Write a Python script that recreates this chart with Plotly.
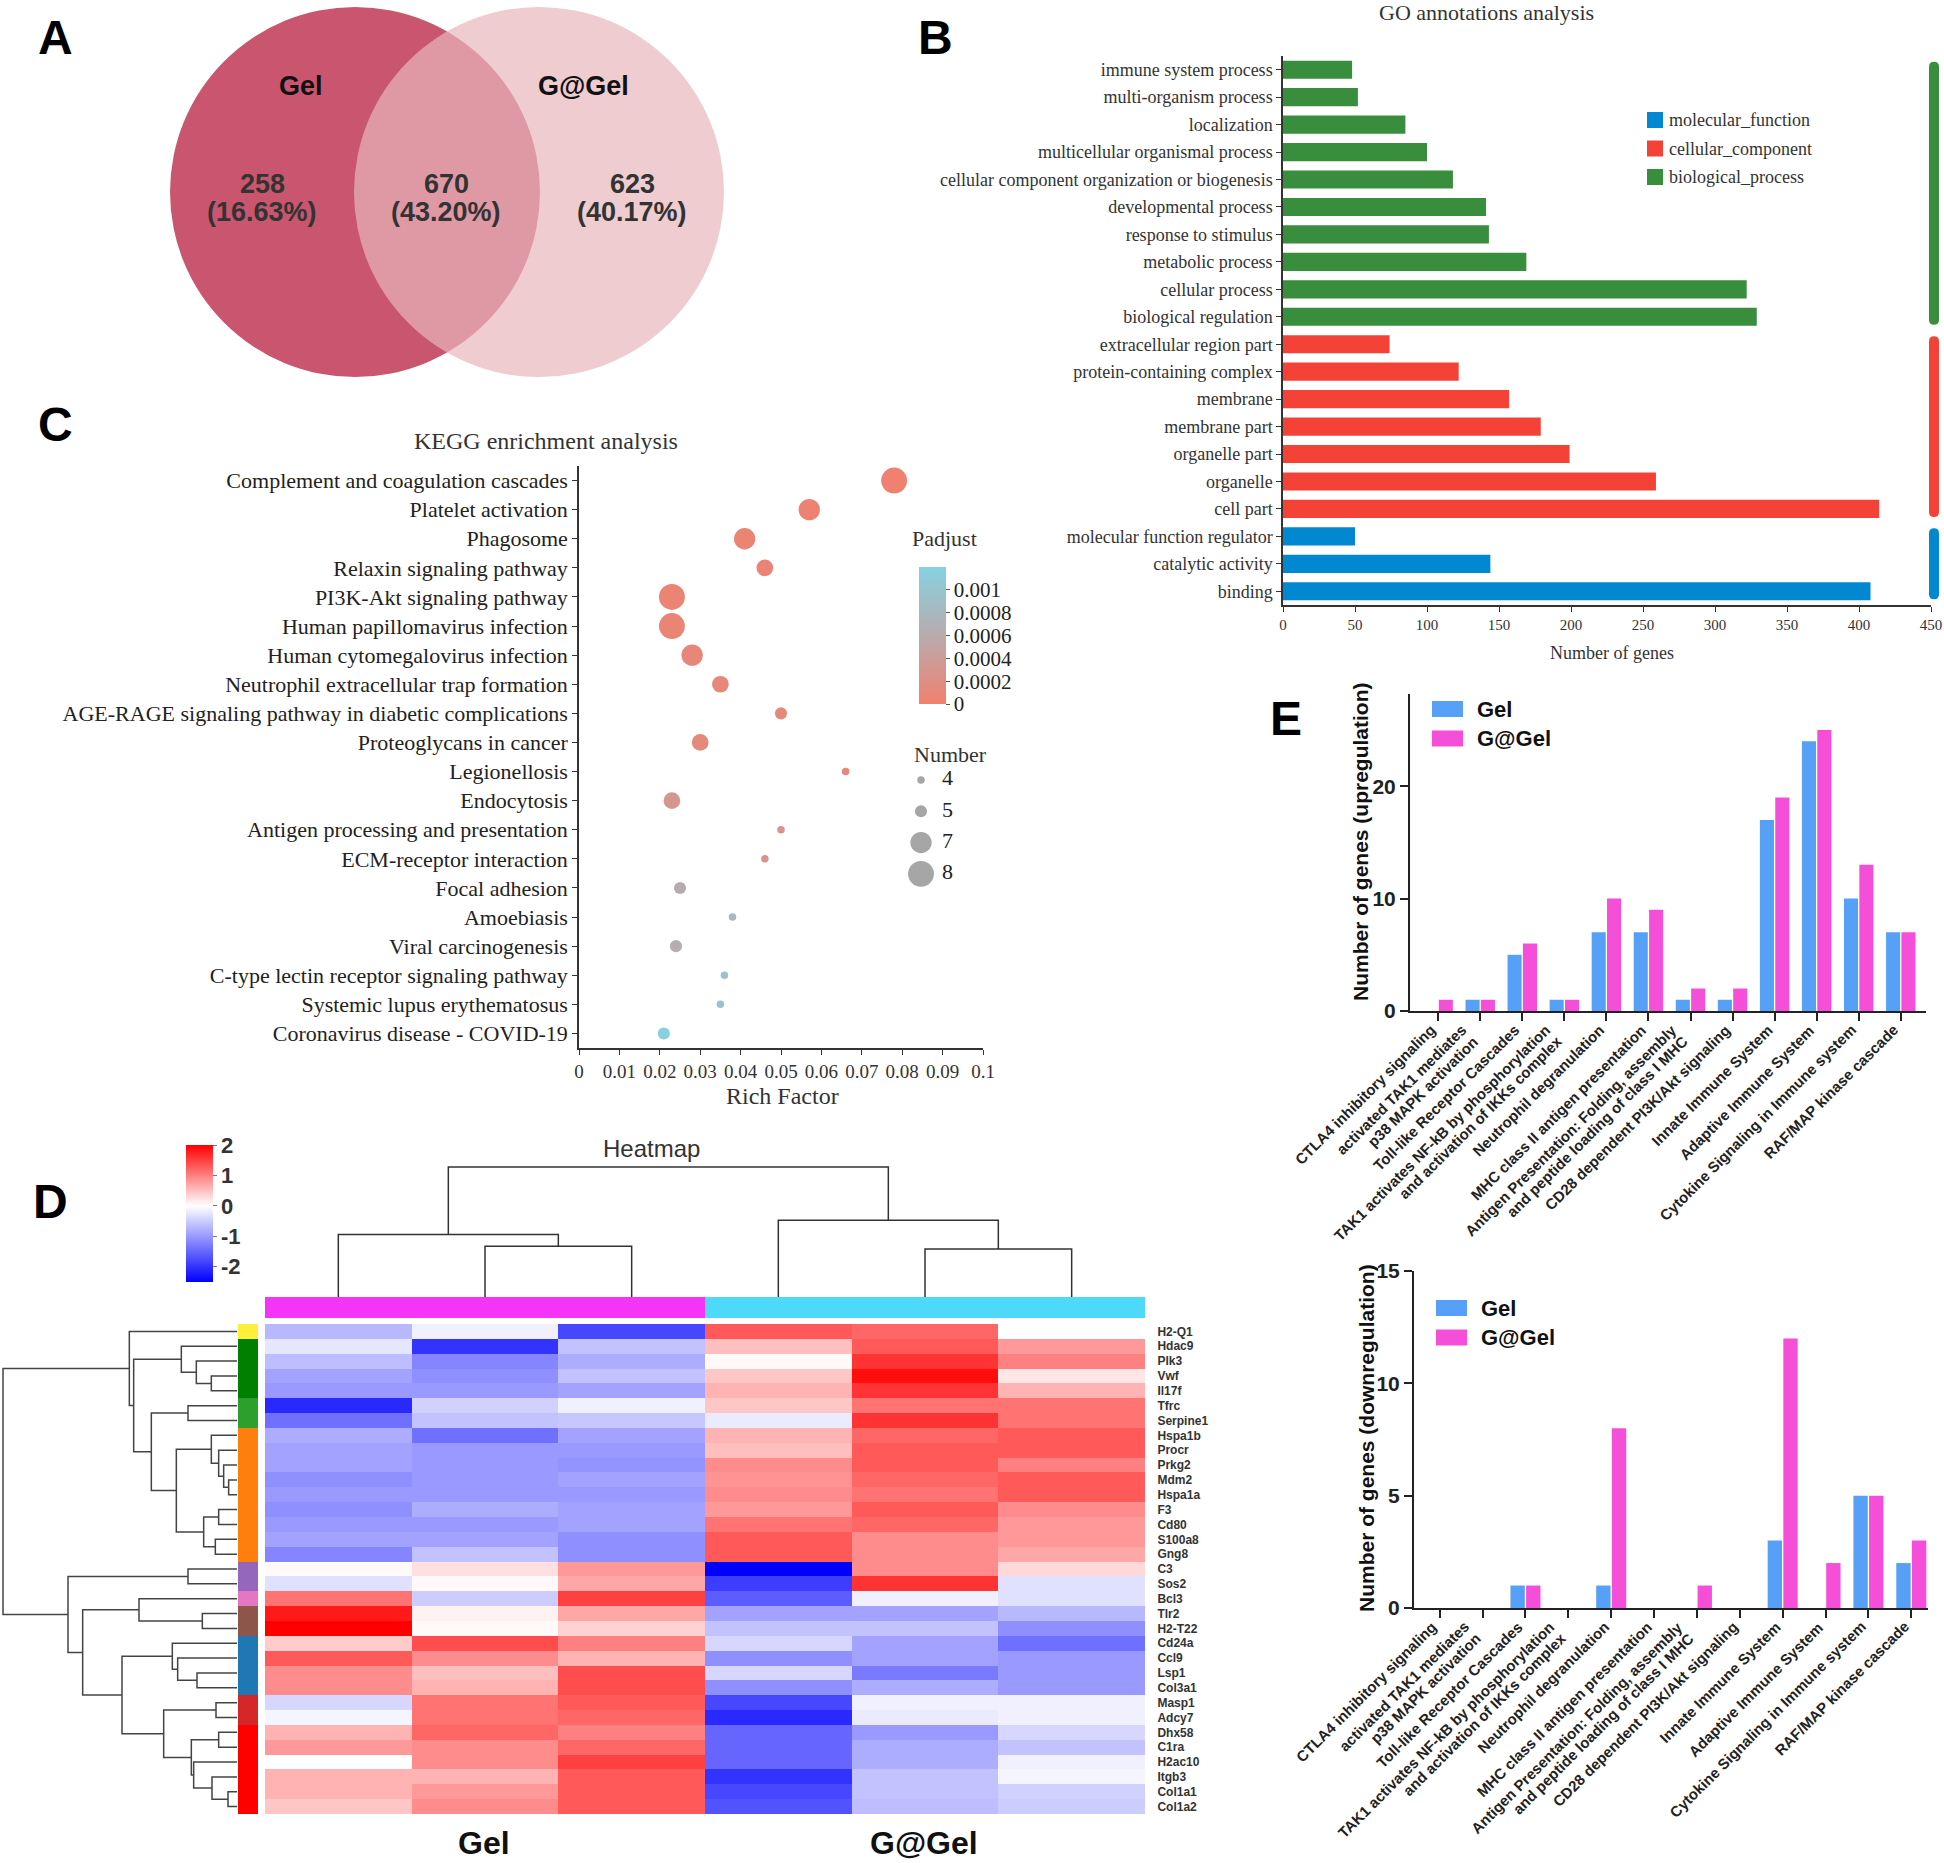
import plotly.graph_objects as go

W, H = 1944, 1863

# ---------------------------------------------------------------- data
venn_labels = ["Gel", "G@Gel"]
venn_counts = [258, 670, 623]          # Gel only, shared, G@Gel only

go_terms = ["immune system process", "multi-organism process", "localization",
            "multicellular organismal process", "cellular component organization or biogenesis",
            "developmental process", "response to stimulus", "metabolic process",
            "cellular process", "biological regulation",
            "extracellular region part", "protein-containing complex", "membrane",
            "membrane part", "organelle part", "organelle", "cell part",
            "molecular function regulator", "catalytic activity", "binding"]
go_counts = [48, 52, 85, 100, 118, 141, 143, 169, 322, 329,
             74, 122, 157, 179, 199, 259, 414,
             50, 144, 408]
go_groups = (["biological_process"] * 10 + ["cellular_component"] * 7 +
             ["molecular_function"] * 3)
go_legend_order = ["molecular_function", "cellular_component", "biological_process"]

kegg_terms = ["Complement and coagulation cascades", "Platelet activation", "Phagosome",
              "Relaxin signaling pathway", "PI3K-Akt signaling pathway",
              "Human papillomavirus infection", "Human cytomegalovirus infection",
              "Neutrophil extracellular trap formation",
              "AGE-RAGE signaling pathway in diabetic complications", "Proteoglycans in cancer",
              "Legionellosis", "Endocytosis", "Antigen processing and presentation",
              "ECM-receptor interaction", "Focal adhesion", "Amoebiasis", "Viral carcinogenesis",
              "C-type lectin receptor signaling pathway", "Systemic lupus erythematosus",
              "Coronavirus disease - COVID-19"]
kegg_rich = [0.078, 0.057, 0.041, 0.046, 0.023, 0.023, 0.028, 0.035, 0.050, 0.030,
             0.066, 0.023, 0.050, 0.046, 0.025, 0.038, 0.024, 0.036, 0.035, 0.021]
kegg_number = [8, 7, 7, 6, 8, 8, 7, 6, 5, 6, 4, 6, 4, 4, 5, 4, 5, 4, 4, 5]
kegg_padj = [0.00001, 0.00003, 0.00005, 0.00006, 0.00006, 0.00007, 0.0001, 0.00011,
             0.00012, 0.00013, 0.00008, 0.0003, 0.00026, 0.00028, 0.0006, 0.0008,
             0.00065, 0.00095, 0.00095, 0.00118]
number_legend = [4, 5, 7, 8]
padj_ticks = [0, 0.0002, 0.0004, 0.0006, 0.0008, 0.001]

heat_genes = ["H2-Q1", "Hdac9", "Plk3", "Vwf", "Il17f", "Tfrc", "Serpine1", "Hspa1b", "Procr",
              "Prkg2", "Mdm2", "Hspa1a", "F3", "Cd80", "S100a8", "Gng8", "C3", "Sos2", "Bcl3",
              "Tlr2", "H2-T22", "Cd24a", "Ccl9", "Lsp1", "Col3a1", "Masp1", "Adcy7", "Dhx58",
              "C1ra", "H2ac10", "Itgb3", "Col1a1", "Col1a2"]
heat_samples = ["Gel-1", "Gel-2", "Gel-3", "G@Gel-1", "G@Gel-2", "G@Gel-3"]
sample_group = ["Gel", "Gel", "Gel", "G@Gel", "G@Gel", "G@Gel"]
gene_cluster = [0, 1, 1, 1, 1, 2, 2, 3, 3, 3, 3, 3, 3, 3, 3, 3, 4, 4, 5, 6, 6, 7, 7, 7, 7,
                8, 8, 9, 9, 9, 9, 9, 9]
heat_z = [
    [-0.7, -0.15, -1.8, 1.3, 1.2, 0.0],
    [-0.25, -2.0, -0.6, 0.5, 1.3, 0.8],
    [-0.65, -1.2, -0.8, 0.05, 1.6, 1.0],
    [-0.9, -1.1, -0.6, 0.45, 1.9, 0.2],
    [-1.0, -1.0, -0.9, 0.6, 1.6, 0.6],
    [-2.1, -0.45, -0.15, 0.45, 1.1, 1.1],
    [-1.4, -0.6, -0.55, -0.2, 1.6, 1.1],
    [-0.8, -1.4, -0.9, 0.6, 1.2, 1.3],
    [-0.9, -1.0, -1.0, 0.5, 1.3, 1.3],
    [-0.9, -1.0, -1.05, 0.9, 1.3, 1.0],
    [-1.1, -1.0, -0.9, 0.85, 1.2, 1.3],
    [-1.0, -1.0, -1.0, 0.9, 1.1, 1.3],
    [-1.1, -0.8, -0.9, 0.8, 1.3, 0.9],
    [-1.0, -1.0, -0.9, 1.1, 1.2, 0.8],
    [-0.9, -0.9, -1.1, 1.3, 0.9, 0.8],
    [-1.2, -0.6, -1.1, 1.3, 0.9, 0.7],
    [0.05, 0.25, 0.8, -2.5, 0.9, 0.3],
    [-0.3, 0.05, 0.7, -1.9, 1.6, -0.3],
    [1.1, -0.5, 1.5, -1.6, -0.15, -0.3],
    [1.8, 0.1, 0.7, -0.9, -0.9, -0.7],
    [2.0, 0.05, 0.35, -0.6, -0.6, -1.1],
    [0.4, 1.4, 1.0, -0.4, -0.9, -1.4],
    [1.3, 0.9, 0.6, -1.1, -0.9, -1.0],
    [0.9, 0.5, 1.4, -0.4, -1.3, -1.0],
    [0.9, 0.6, 1.4, -1.1, -0.8, -1.0],
    [-0.4, 1.1, 1.3, -1.8, -0.15, -0.15],
    [-0.1, 1.1, 1.2, -2.1, -0.2, -0.15],
    [0.6, 1.2, 1.0, -1.5, -1.0, -0.4],
    [0.8, 0.9, 1.2, -1.5, -0.8, -0.6],
    [0.0, 0.9, 1.5, -1.5, -0.8, -0.15],
    [0.6, 0.6, 1.3, -2.0, -0.6, -0.1],
    [0.6, 0.8, 1.3, -1.8, -0.6, -0.45],
    [0.45, 0.9, 1.3, -1.7, -0.65, -0.5],
]
# dendrograms: (height, left, right); leaves are row / column indices
row_tree = (70.2,
            (32.3, 0,
             (31.0,
              (16.7, 1, (12.2, 2, (7.7, 3, 4))),
              (25.7, (14.7, 5, 6),
               (18.2, (7.7, 7, (5.5, 8, (4.0, 9, (2.5, 10, 11)))),
                (10.0, (5.5, 12, 13), (6.5, 14, 15)))))),
            (50.7, (14.7, 16, 17),
             (46.3, (29.4, 18, (10.4, 19, 20)),
              (34.5, (19.4, 21, (17.8, 22, (12.0, 23, 24))),
               (22.0, (6.3, 25, 26),
                (13.7, (5.5, 27, 28),
                 (13.0, 29, (7.5, 30, (2.7, 31, 32)))))))))
col_tree = (1.0, (0.48, 0, (0.39, 1, 2)), (0.59, 3, (0.37, 4, 5)))

reactome_terms = ["CTLA4 inhibitory signaling",
                  "activated TAK1 mediates<br>p38 MAPK activation",
                  "Toll-like Receptor Cascades",
                  "TAK1 activates NF-kB by phosphorylation<br>and activation of IKKs complex",
                  "Neutrophil degranulation",
                  "MHC class II antigen presentation",
                  "Antigen Presentation: Folding, assembly<br>and peptide loading of class I MHC",
                  "CD28 dependent PI3K/Akt signaling",
                  "Innate Immune System",
                  "Adaptive Immune System",
                  "Cytokine Signaling in Immune system",
                  "RAF/MAP kinase cascade"]
up_gel = [0, 1, 5, 1, 7, 7, 1, 1, 17, 24, 10, 7]
up_ggel = [1, 1, 6, 1, 10, 9, 2, 2, 19, 25, 13, 7]
down_gel = [0, 0, 1, 0, 1, 0, 0, 0, 3, 0, 5, 2]
down_ggel = [0, 0, 1, 0, 8, 0, 1, 0, 12, 2, 5, 3]

# ---------------------------------------------------------------- styles
SERIF = "Liberation Serif, Times New Roman, serif"
SANS = "Liberation Sans, Arial, sans-serif"
GO_COL = {"biological_process": "#388E3C", "cellular_component": "#F44336",
          "molecular_function": "#0288D1"}
GEL_C, GGEL_C = "#56A1F7", "#F54FD9"
CLUSTER_COLORS = ["#FFEE3A", "#007F00", "#2CA02C", "#FF7F0E", "#9467BD", "#E377C2",
                  "#8C564B", "#1F77B4", "#D62728", "#FF0000"]
GROUP_COLORS = {"Gel": "#F535F5", "G@Gel": "#4DD9F9"}


def fx(p):
    return p / W


def fy(p):
    return 1 - p / H


def dx(a, b):
    return [a / W, b / W]


def dy(top, bot):
    return [1 - bot / H, 1 - top / H]


def ann(text, x, y, size, family=SANS, color="#222", bold=False, xanchor="center",
        yanchor="middle", angle=0):
    return dict(text=text, x=fx(x), y=fy(y), xref="paper", yref="paper", showarrow=False,
                font=dict(family=family, size=size, color=color,
                          weight="bold" if bold else "normal"),
                xanchor=xanchor, yanchor=yanchor, textangle=angle)


def rect(x0, y0, x1, y1, color, **kw):
    d = dict(type="rect", xref="paper", yref="paper", x0=fx(x0), x1=fx(x1), y0=fy(y1),
             y1=fy(y0), fillcolor=color, line=dict(width=0), layer="above")
    d.update(kw)
    return d


def rounded_vbar(xc, y0, y1, w, color):
    r = w / 2.0
    P = lambda x, y: f"{fx(x):.6f},{fy(y):.6f}"
    path = (f"M {P(xc - r, y0 + r)} Q {P(xc - r, y0)} {P(xc, y0)} Q {P(xc + r, y0)} {P(xc + r, y0 + r)} "
            f"L {P(xc + r, y1 - r)} Q {P(xc + r, y1)} {P(xc, y1)} Q {P(xc - r, y1)} {P(xc - r, y1 - r)} Z")
    return dict(type="path", path=path, xref="paper", yref="paper", fillcolor=color,
                line=dict(width=0), layer="above")


def dendro_segments(tree):
    pos, hgt = [], []

    def rec(n):
        if isinstance(n, int):
            return float(n), 0.0
        h, a, b = n
        pa, ha = rec(a)
        pb, hb = rec(b)
        pos.extend([pa, pa, pb, pb, None])
        hgt.extend([ha, h, h, hb, None])
        return (pa + pb) / 2.0, h

    rec(tree)
    return pos, hgt


fig = go.Figure()
shapes, annotations = [], []

# ---------------------------------------------------------------- A: Venn
total = sum(venn_counts)
shapes.append(dict(type="circle", xref="paper", yref="paper", x0=fx(170), x1=fx(540),
                   y0=fy(377), y1=fy(7), fillcolor="#C9566E", line=dict(width=0), layer="below"))
shapes.append(dict(type="circle", xref="paper", yref="paper", x0=fx(354), x1=fx(724),
                   y0=fy(377), y1=fy(7), fillcolor="rgba(231,183,188,0.7)", line=dict(width=0),
                   layer="below"))
annotations.append(ann(venn_labels[0], 301, 86, 27, color="#111", bold=True))
annotations.append(ann(venn_labels[1], 583, 86, 27, color="#111", bold=True))
for cx, c in zip([262, 446, 632], venn_counts):
    annotations.append(ann(str(c), cx, 184, 27, color="#333", bold=True))
    annotations.append(ann(f"({c / total * 100:.2f}%)", cx, 212, 27, color="#333", bold=True))

# ---------------------------------------------------------------- B: GO bars
for grp in ["biological_process", "cellular_component", "molecular_function"]:
    idx = [i for i, g in enumerate(go_groups) if g == grp]
    fig.add_trace(go.Bar(x=[go_counts[i] for i in idx], y=[go_terms[i] for i in idx],
                         orientation="h", name=grp, marker=dict(color=GO_COL[grp], line=dict(width=0)),
                         width=0.66, offset=-0.33, xaxis="x", yaxis="y", hoverinfo="skip"))
B_TOP, B_BOT = 56, 605
step = (B_BOT - B_TOP) / len(go_terms)
for grp in go_legend_order[::-1]:
    idx = [i for i, g in enumerate(go_groups) if g == grp]
    y0 = B_TOP + step * (min(idx) + 0.5) - 8
    y1 = B_TOP + step * (max(idx) + 0.5) + 8
    shapes.append(rounded_vbar(1934, y0, y1, 10, GO_COL[grp]))
for k, grp in enumerate(go_legend_order):
    yc = 120 + 28.5 * k
    shapes.append(rect(1647, yc - 8, 1663, yc + 8, GO_COL[grp]))
    annotations.append(ann(grp, 1667, yc, 18, family=SERIF, color="#333", xanchor="left"))
annotations.append(ann("GO annotations analysis", 1486, 12, 22, family=SERIF, color="#333"))
annotations.append(ann("Number of genes", 1612, 653, 18, family=SERIF, color="#333"))

# ---------------------------------------------------------------- C: KEGG bubbles
size_px = lambda n: 4.6 * n - 10.9
fig.add_trace(go.Scatter(
    x=kegg_rich, y=kegg_terms, mode="markers", xaxis="x2", yaxis="y2", hoverinfo="skip",
    marker=dict(size=[size_px(n) for n in kegg_number], color=kegg_padj, cmin=0, cmax=0.0012,
                colorscale=[[0, "#F1806F"], [0.5, "#B8ABAE"], [1, "#86D1E0"]],
                line=dict(width=0), opacity=1,
                colorbar=dict(x=fx(919), xanchor="left", y=fy(567), yanchor="top",
                              lenmode="pixels", len=137, thicknessmode="pixels", thickness=27,
                              xpad=0, ypad=0, outlinewidth=0, tickvals=padj_ticks,
                              ticktext=[f"{v:g}" for v in padj_ticks], ticks="outside",
                              ticklen=4, tickcolor="#555",
                              tickfont=dict(family=SERIF, size=21, color="#222")))))
fig.add_trace(go.Scatter(
    x=[21] * len(number_legend), y=list(range(len(number_legend))), mode="markers",
    xaxis="x3", yaxis="y3", hoverinfo="skip",
    marker=dict(size=[size_px(n) for n in number_legend], color="#808080", line=dict(width=0))))
fig.add_trace(go.Scatter(
    x=[42] * len(number_legend), y=list(range(len(number_legend))), mode="text",
    text=[str(n) for n in number_legend], textposition="middle right", xaxis="x3", yaxis="y3",
    hoverinfo="skip", textfont=dict(family=SERIF, size=22, color="#222")))
annotations.append(ann("KEGG enrichment analysis", 546, 441, 24, family=SERIF, color="#333"))
annotations.append(ann("Rich Factor", 782, 1096, 24, family=SERIF, color="#333"))
annotations.append(ann("Padjust", 944, 539, 22, family=SERIF, color="#333"))
annotations.append(ann("Number", 950, 754, 22, family=SERIF, color="#333"))

# ---------------------------------------------------------------- D: heatmap
fig.add_trace(go.Heatmap(
    z=heat_z, x=list(range(len(heat_samples))), y=list(range(len(heat_genes))),
    xaxis="x4", yaxis="y4", zmin=-2.5, zmax=2.0, hoverinfo="skip",
    colorscale=[[0, "#0000FF"], [2.5 / 4.5, "#FFFFFF"], [1, "#FF0000"]],
    colorbar=dict(x=fx(186), xanchor="left", y=fy(1145), yanchor="top", lenmode="pixels",
                  len=137, thicknessmode="pixels", thickness=27, xpad=0, ypad=0,
                  outlinewidth=0, tickvals=[-2, -1, 0, 1, 2],
                  ticktext=["-2", "-1", "0", "1", "2"], ticks="outside", ticklen=4,
                  tickcolor="#777",
                  tickfont=dict(family=SANS, size=22, color="#333", weight="bold"))))
cp, ch = dendro_segments(col_tree)
fig.add_trace(go.Scatter(x=cp, y=ch, mode="lines", xaxis="x4", yaxis="y5", hoverinfo="skip",
                         line=dict(color="#333", width=1.5)))
rp, rh = dendro_segments(row_tree)
fig.add_trace(go.Scatter(x=rh, y=rp, mode="lines", xaxis="x6", yaxis="y6", hoverinfo="skip",
                         line=dict(color="#444", width=1.5)))
ncl = len(CLUSTER_COLORS) - 1
fig.add_trace(go.Heatmap(
    z=[[c] for c in gene_cluster], x=[0], y=list(range(len(heat_genes))), xaxis="x7",
    yaxis="y4", zmin=0, zmax=ncl, showscale=False, hoverinfo="skip",
    colorscale=[[i / ncl, c] for i, c in enumerate(CLUSTER_COLORS)]))
grp_names = list(GROUP_COLORS)
fig.add_trace(go.Heatmap(
    z=[[grp_names.index(g) for g in sample_group]], x=list(range(len(heat_samples))), y=[0],
    xaxis="x4", yaxis="y8", zmin=0, zmax=1, showscale=False, hoverinfo="skip",
    colorscale=[[0, GROUP_COLORS["Gel"]], [1, GROUP_COLORS["G@Gel"]]]))
annotations.append(ann("Heatmap", 651, 1148, 24, color="#333"))
annotations.append(ann("Gel", 484, 1843, 32, color="#111", bold=True))
annotations.append(ann("G@Gel", 924, 1843, 32, color="#111", bold=True))

# ---------------------------------------------------------------- E: bars
for xa, ya, g_vals, gg_vals in [("x9", "y9", up_gel, up_ggel), ("x10", "y10", down_gel, down_ggel)]:
    fig.add_trace(go.Bar(x=reactome_terms, y=g_vals, name="Gel", offset=-0.35, width=0.335,
                         marker=dict(color=GEL_C, line=dict(width=0)), xaxis=xa, yaxis=ya,
                         hoverinfo="skip"))
    fig.add_trace(go.Bar(x=reactome_terms, y=gg_vals, name="G@Gel", offset=0.015, width=0.335,
                         marker=dict(color=GGEL_C, line=dict(width=0)), xaxis=xa, yaxis=ya,
                         hoverinfo="skip"))
# rotated category labels (multi-line labels get a tighter line spacing than plotly's ticks)
LS = 16.0
for xa, ybase in [("x9", 1020), ("x10", 1617)]:
    for i, lab in enumerate(reactome_terms):
        lines = lab.split("<br>")
        n = len(lines)
        t = -(n - 1) / 2 * LS
        for k, line in enumerate(lines):
            p = (k - (n - 1) / 2) * LS
            annotations.append(dict(
                text=line, x=i, y=fy(ybase), xref=xa, yref="paper", xanchor="right",
                yanchor="top", textangle=-45, showarrow=False, borderpad=0,
                xshift=0.7071 * (p + t) + 2, yshift=-0.7071 * (p - t),
                font=dict(family=SANS, size=15, color="#222", weight="bold")))
for (lx, ly) in [(1432, 709), (1436, 1308)]:
    for k, (nm, col) in enumerate([("Gel", GEL_C), ("G@Gel", GGEL_C)]):
        yc = ly + 29.5 * k
        shapes.append(rect(lx, yc - 8, lx + 31, yc + 8, col))
        annotations.append(ann(nm, lx + 43, yc, 22, color="#111", bold=True, xanchor="left"))
annotations.append(ann("Number of genes (upregulation)", 1360, 842, 21, color="#111",
                       bold=True, angle=-90))
annotations.append(ann("Number of genes (downregulation)", 1366, 1438, 21, color="#111",
                       bold=True, angle=-90))

# ---------------------------------------------------------------- panel letters
for t_, x, y in [("A", 55, 38), ("B", 935, 38), ("C", 55, 424), ("D", 50, 1201), ("E", 1286, 719)]:
    annotations.append(ann(t_, x, y, 48, color="#000", bold=True))

# ---------------------------------------------------------------- axes
hidden = dict(visible=False, showgrid=False, zeroline=False, fixedrange=True)
ser_tick = lambda s, c="#333": dict(family=SERIF, size=s, color=c)
e_x = dict(showline=True, linecolor="#222", linewidth=2, ticks="outside", ticklen=8,
           tickwidth=2, tickcolor="#222", showticklabels=False, showgrid=False, zeroline=False,
           categoryorder="array", categoryarray=reactome_terms)
e_y = dict(showline=True, linecolor="#222", linewidth=2, ticks="outside", ticklen=8,
           tickwidth=2, tickcolor="#222", showgrid=False, zeroline=False,
           tickfont=dict(family=SANS, size=21, color="#222", weight="bold"))

fig.update_layout(
    width=W, height=H, margin=dict(l=0, r=0, t=0, b=0, pad=0, autoexpand=False),
    paper_bgcolor="white",
    plot_bgcolor="rgba(0,0,0,0)", barmode="overlay", showlegend=False,
    font=dict(family=SANS, color="#222"),
    xaxis=dict(domain=dx(1283, 1931), anchor="y", range=[0, 450], tickvals=list(range(0, 451, 50)),
               showline=True, linecolor="#333", linewidth=1.5, ticks="outside", ticklen=5,
               tickcolor="#333", showgrid=False, zeroline=False, tickfont=ser_tick(15)),
    yaxis=dict(domain=dy(B_TOP, B_BOT), anchor="x", type="category", categoryorder="array",
               categoryarray=go_terms, range=[len(go_terms) - 0.5, -0.5], showline=True,
               linecolor="#333", linewidth=1.5, ticks="outside", ticklen=5, tickcolor="#333",
               showgrid=False, tickfont=ser_tick(18)),
    xaxis2=dict(domain=dx(579, 983), anchor="y2", range=[0, 0.1],
                tickvals=[i / 100 for i in range(11)],
                ticktext=["0"] + [f"{i / 100:g}" for i in range(1, 11)],
                showline=True, linecolor="#333", linewidth=1.5, ticks="outside", ticklen=5,
                tickcolor="#333", showgrid=False, zeroline=False, tickfont=ser_tick(19)),
    yaxis2=dict(domain=dy(466, 1048), anchor="x2", type="category", categoryorder="array",
                categoryarray=kegg_terms, range=[len(kegg_terms) - 0.5, -0.5], showline=True,
                linecolor="#333", linewidth=1.5, ticks="outside", ticklen=5, tickcolor="#333",
                showgrid=False, tickfont=ser_tick(22, "#222")),
    xaxis3=dict(domain=dx(900, 1000), anchor="y3", range=[0, 100], **hidden),
    yaxis3=dict(domain=dy(764.3, 889.5), anchor="x3", range=[3.5, -0.5], **hidden),
    xaxis4=dict(domain=dx(265, 1145), anchor="y4", range=[-0.5, 5.5], **hidden),
    yaxis4=dict(domain=dy(1324, 1814), anchor="x4", range=[len(heat_genes) - 0.5, -0.5],
                side="right", tickvals=list(range(len(heat_genes))), ticktext=heat_genes,
                ticks="outside", ticklen=9, tickcolor="rgba(0,0,0,0)", showline=False,
                showgrid=False, zeroline=False,
                tickfont=dict(family=SANS, size=12, color="#333", weight="bold")),
    yaxis5=dict(domain=dy(1160, 1297), anchor="x4", range=[0, 137 / 130], **hidden),
    xaxis6=dict(domain=dx(0, 237), anchor="y6", range=[71.1, 0], **hidden),
    yaxis6=dict(domain=dy(1324, 1814), anchor="x6", range=[len(heat_genes) - 0.5, -0.5], **hidden),
    xaxis7=dict(domain=dx(238, 258), anchor="y4", range=[-0.5, 0.5], **hidden),
    yaxis8=dict(domain=dy(1297, 1318), anchor="x4", range=[-0.5, 0.5], **hidden),
    xaxis9=dict(domain=dx(1410, 1926), anchor="y9", range=[-0.67, 11.6], **e_x),
    yaxis9=dict(domain=dy(694, 1011), anchor="x9", range=[0, 28.2], tickvals=[0, 10, 20], **e_y),
    xaxis10=dict(domain=dx(1414, 1928), anchor="y10", range=[-0.6, 11.39], **e_x),
    yaxis10=dict(domain=dy(1271, 1608), anchor="x10", range=[0, 15], tickvals=[0, 5, 10, 15], **e_y),
    shapes=shapes, annotations=annotations,
)

fig.write_html("out.html", config={"displayModeBar": False},
               post_script="document.body.style.margin='0';")
